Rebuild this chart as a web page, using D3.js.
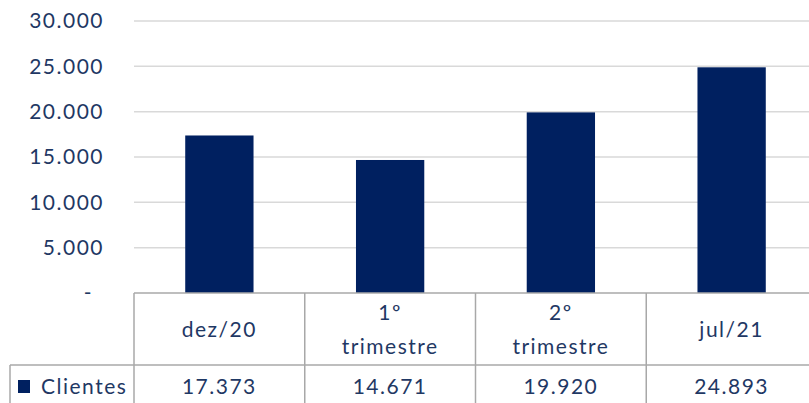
<!DOCTYPE html>
<html>
<head>
<meta charset="utf-8">
<script src="https://cdn.jsdelivr.net/npm/d3@7"></script>
<style>
  html, body { margin: 0; padding: 0; background: #fff; overflow: hidden; }
  svg { display: block; }
  text { font-family: Lato, "Open Sans", sans-serif; fill: #1F3864; letter-spacing: 1.5px; }
</style>
</head>
<body>
<svg id="chart" width="809" height="403"></svg>
<script>
const categories = [["dez/20"], ["1º", "trimestre"], ["2º", "trimestre"], ["jul/21"]];
const categoryKeys = ["dez/20", "1º trimestre", "2º trimestre", "jul/21"];
const seriesName = "Clientes";
const values = [17373, 14671, 19920, 24893];
const yTicks = [0, 5000, 10000, 15000, 20000, 25000, 30000];

(function () {
const svg = d3.select("#chart");
const W = 809, H = 403;
const plotLeft = 134, plotRight = 817, plotTop = 21, base = 293;
const headerBottom = 365, tableLeft = 10;
const fs = 21;

const x = d3.scaleBand().domain(categoryKeys).range([plotLeft, plotRight]).paddingInner(0.6).paddingOuter(0.3);
const y = d3.scaleLinear().domain([0, 30000]).range([base, plotTop]);

const fmt = v => v === 0 ? "-" : d3.format(",")(v).replace(/,/g, ".");

// gridlines
svg.append("g").selectAll("line").data(yTicks.filter(t => t > 0)).join("line")
  .attr("x1", plotLeft).attr("x2", W)
  .attr("y1", d => y(d)).attr("y2", d => y(d))
  .attr("stroke", "#d9d9d9").attr("stroke-width", 1.5);

// y labels
svg.append("g").selectAll("text").data(yTicks).join("text")
  .attr("x", d => d === 0 ? 93 : 104)
  .attr("y", d => y(d))
  .attr("dy", "0.35em")
  .attr("text-anchor", "end")
  .attr("font-size", fs)
  .text(fmt);

// bars
svg.append("g").selectAll("rect").data(values).join("rect")
  .attr("x", (d, i) => x(categoryKeys[i]))
  .attr("width", x.bandwidth())
  .attr("y", d => y(d))
  .attr("height", d => y(0) - y(d))
  .attr("fill", "#002060");

// table lines
const step = x.step();
const bounds = categoryKeys.map((c, i) => plotLeft + i * step).concat([plotRight]);
const tl = svg.append("g").attr("stroke", "#a8a8a8").attr("stroke-width", 1.5).attr("fill", "none");
tl.append("line").attr("x1", plotLeft).attr("x2", plotRight).attr("y1", base).attr("y2", base);
tl.append("line").attr("x1", tableLeft).attr("x2", plotRight).attr("y1", headerBottom).attr("y2", headerBottom);
tl.selectAll("line.v").data(bounds).join("line").attr("class", "v")
  .attr("x1", d => d).attr("x2", d => d).attr("y1", base).attr("y2", H + 5);
tl.append("line").attr("x1", tableLeft).attr("x2", tableLeft).attr("y1", headerBottom).attr("y2", H + 5);

// header labels
const headerMid = (base + headerBottom) / 2 + 1;
categories.forEach((lines, i) => {
  const cx = x(categoryKeys[i]) + x.bandwidth() / 2;
  const lh = 34;
  const start = headerMid - (lines.length - 1) * lh / 2;
  lines.forEach((ln, j) => {
    svg.append("text").attr("x", cx).attr("y", start + j * lh).attr("dy", "0.35em")
      .attr("text-anchor", "middle").attr("font-size", fs).text(ln);
  });
});

// data row
const rowY = 387;
values.forEach((v, i) => {
  svg.append("text").attr("x", x(categoryKeys[i]) + x.bandwidth() / 2).attr("y", rowY).attr("dy", "0.35em")
    .attr("text-anchor", "middle").attr("font-size", fs).text(fmt(v));
});

// legend
svg.append("rect").attr("x", 18).attr("y", 380).attr("width", 12).attr("height", 13).attr("fill", "#002060");
svg.append("text").attr("x", 41).attr("y", rowY).attr("dy", "0.35em").attr("font-size", fs).text(seriesName);
})();
</script>
</body>
</html>
